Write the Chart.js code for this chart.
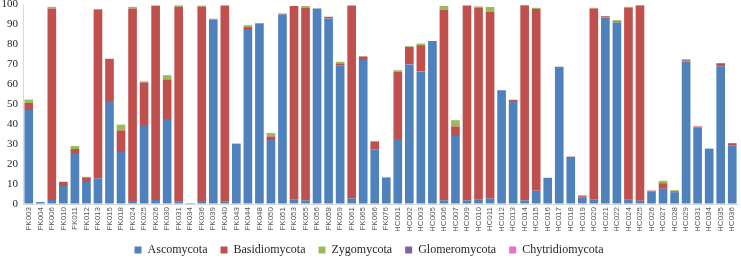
<!DOCTYPE html>
<html>
<head>
<meta charset="utf-8">
<script src="https://cdn.jsdelivr.net/npm/chart.js@4.4.1/dist/chart.umd.min.js"></script>
<style>
html,body{margin:0;padding:0;background:#fff;}
#wrap{width:741px;height:280px;position:relative;}
</style>
</head>
<body>
<div id="wrap"><canvas id="c"></canvas></div>
<script>
const categories = ["FK003","FK004","FK006","FK010","FK011","FK012","FK013","FK015","FK018","FK024","FK025","FK026","FK030","FK031","FK034","FK036","FK039","FK040","FK043","FK044","FK048","FK050","FK051","FK053","FK055","FK056","FK058","FK059","FK061","FK065","FK066","FK076","HC001","HC002","HC003","HC005","HC006","HC007","HC009","HC010","HC011","HC012","HC013","HC014","HC015","HC016","HC017","HC018","HC019","HC020","HC021","HC022","HC024","HC025","HC026","HC027","HC028","HC029","HC031","HC034","HC035","HC036"];

const ascomycota = [47,1,2,9,25,11,12.8,51.5,26,1.5,39.5,2,42.5,1.4,0.5,1.5,92.3,1.4,30.2,87,90.3,32,94.8,2.1,1.8,97.8,92.8,69.4,2.8,72,27.3,13.3,32.5,69.8,66.3,81.5,1.8,34,1.8,2.1,2.8,56.9,51.5,1.8,6.6,13.1,68.6,23.5,3.4,2.3,93.3,90.8,2.4,1.6,6.3,7.6,5.9,71.3,38.3,27.7,68.9,29.2];

const basidiomycota = [3.5,0,95.8,2,2.5,2.3,84.5,21.1,10.8,96.3,21.3,97,19.8,97.2,0,97.3,0.3,97.8,0,1.6,0.2,1.8,0.4,96.9,96.3,0,0.8,0.9,96.4,1.8,3.9,0,33.6,8.8,13.1,0,95.5,4.8,97.5,96.2,93.3,0,0.6,97.4,90.9,0,0,0.2,0.5,95.5,0.6,0.6,95.7,97.4,0.4,2.8,0.5,0.6,0.5,0,1.5,1.2];

const zygomycota = [1.7,0,0.8,0.2,1.5,0.3,0.2,0,2.9,0.8,0.5,0.3,2.1,0.7,0,0.4,0,0,0,0.8,0,1.7,0,0,0.9,0,0,0.8,0,0,0.3,0,0.8,0.3,0.8,0,1.7,3.1,0,0.5,2.4,0,0,0.3,0.6,0,0,0,0.5,0.3,0,0.5,0.5,0.5,0,1.2,0.5,0.5,0,0,0,0];

const glomeromycota = [0,0,0,0,0,0,0,0,0,0,0,0,0,0,0,0,0,0,0,0,0,0,0,0,0,0,0,0,0,0,0,0,0,0,0,0,0,0,0,0,0,0,0,0,0,0,0,0,0,0,0,0,0,0,0,0,0,0,0,0,0,0];

const chytridiomycota = [0,0,0,0,0,0,0,0,0,0,0,0,0,0,0,0,0,0,0,0,0,0,0,0,0,0,0,0,0,0,0,0,0,0,0,0,0,0,0,0,0,0,0,0,0,0,0,0,0,0,0,0,0,0,0,0,0,0,0,0,0,0];

const seriesNames = ["Ascomycota","Basidiomycota","Zygomycota","Glomeromycota","Chytridiomycota"];
const seriesColors = ["#4F81BD","#C0504D","#9BBB59","#8064A2","#EE6FCB"];
const seriesData = [ascomycota, basidiomycota, zygomycota, glomeromycota, chytridiomycota];

const datasets = seriesNames.map((n,i)=>({
  label:n,
  data:seriesData[i],
  backgroundColor:seriesColors[i],
  borderWidth:0,
  categoryPercentage:0.75,
  barPercentage:1.0
}));

new Chart(document.getElementById('c'),{
  type:'bar',
  data:{labels:categories, datasets:datasets},
  options:{
    responsive:true,
    maintainAspectRatio:false,
    animation:false,
    layout:{padding:{top:4,right:3,left:0,bottom:14}},
    plugins:{
      legend:{
        position:'bottom',
        labels:{
          font:{family:'"Liberation Serif", serif', size:12},
          color:'#262626',
          boxWidth:7,
          boxHeight:7,
          padding:13
        }
      },
      tooltip:{enabled:false}
    },
    scales:{
      x:{
        stacked:true,
        grid:{display:true,drawOnChartArea:false,drawTicks:false},
        border:{display:true,color:'#d9d9d9'},
        ticks:{
          autoSkip:false,
          minRotation:90,
          maxRotation:90,
          padding:3,
          color:'#595959',
          font:{family:'"Liberation Sans", sans-serif', size:8}
        },
        afterFit:(s)=>{s.height=27;s.paddingLeft=0;s.paddingRight=0;}
      },
      y:{
        stacked:true,
        min:0,
        max:100,
        grid:{display:true,drawOnChartArea:false,drawTicks:false},
        border:{display:true,color:'#d9d9d9'},
        ticks:{
          stepSize:10,
          padding:5,
          color:'#262626',
          font:{family:'"Liberation Serif", serif', size:11}
        },
        afterFit:(s)=>{s.width=23;s.paddingTop=0;s.paddingBottom=0;}
      }
    }
  }
});
</script>
</body>
</html>
